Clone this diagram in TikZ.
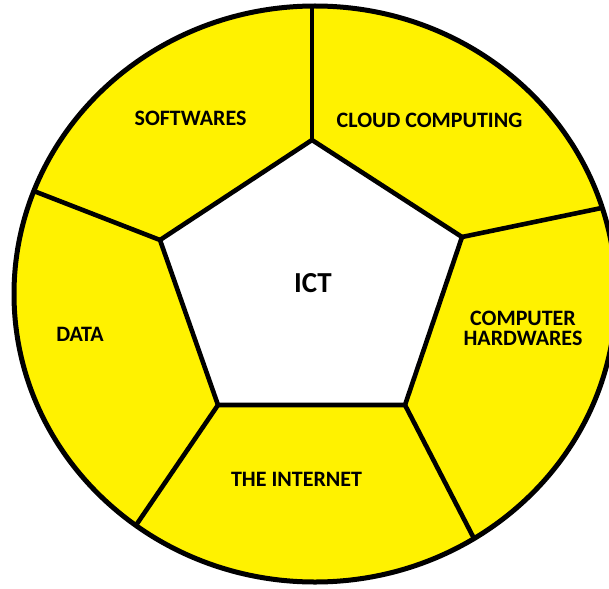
\documentclass[tikz,border=0pt]{standalone}
\usepackage{fontspec}
\setmainfont{Carlito}
\definecolor{ictyellow}{RGB}{255,242,0}
\tikzset{
  rim/.style={line width=5pt},
  spoke/.style={line width=4.6pt},
  lbl/.style={font=\bfseries\fontsize{22}{20}\selectfont, align=center, inner sep=0pt},
  hublbl/.style={font=\bfseries\fontsize{29}{29}\selectfont, inner sep=0pt}
}
\begin{document}
\begin{tikzpicture}[x=1pt,y=-1pt]
  \clip (0,0) rectangle (609,588);

  \coordinate (o) at (315,294);
  \coordinate (top) at (312,140);
  \coordinate (ur) at (462,237);
  \coordinate (lr) at (405,405);
  \coordinate (ll) at (218,405);
  \coordinate (ul) at (160,240);

  \coordinate (topend) at (312,-4);
  \coordinate (urend) at (616,205);
  \coordinate (lrend) at (482,554);
  \coordinate (llend) at (128,537);
  \coordinate (ulend) at (26,188);

  \fill[ictyellow] (o) ellipse [x radius=301pt, y radius=288pt];
  \begin{scope}
    \clip (o) ellipse [x radius=301pt, y radius=288pt];
    \draw[spoke] (top) -- (topend);
    \draw[spoke] (ur) -- (urend);
    \draw[spoke] (lr) -- (lrend);
    \draw[spoke] (ll) -- (llend);
    \draw[spoke] (ul) -- (ulend);
  \end{scope}
  \draw[rim] (o) ellipse [x radius=301pt, y radius=288pt];
  \draw[spoke, fill=white] (top) -- (ur) -- (lr) -- (ll) -- (ul) -- cycle;

  \node[hublbl] (ict) at (313,283) {ICT};
  \node[lbl] (soft) at (190.5,118) {SOFTWARES};
  \node[lbl] (cloud) at (429.5,120) {CLOUD COMPUTING};
  \node[lbl] (hard) at (523,328) {COMPUTER\\HARDWARES};
  \node[lbl] (data) at (80,334) {DATA};
  \node[lbl] (net) at (296.5,479.5) {THE INTERNET};
\end{tikzpicture}
\end{document}
